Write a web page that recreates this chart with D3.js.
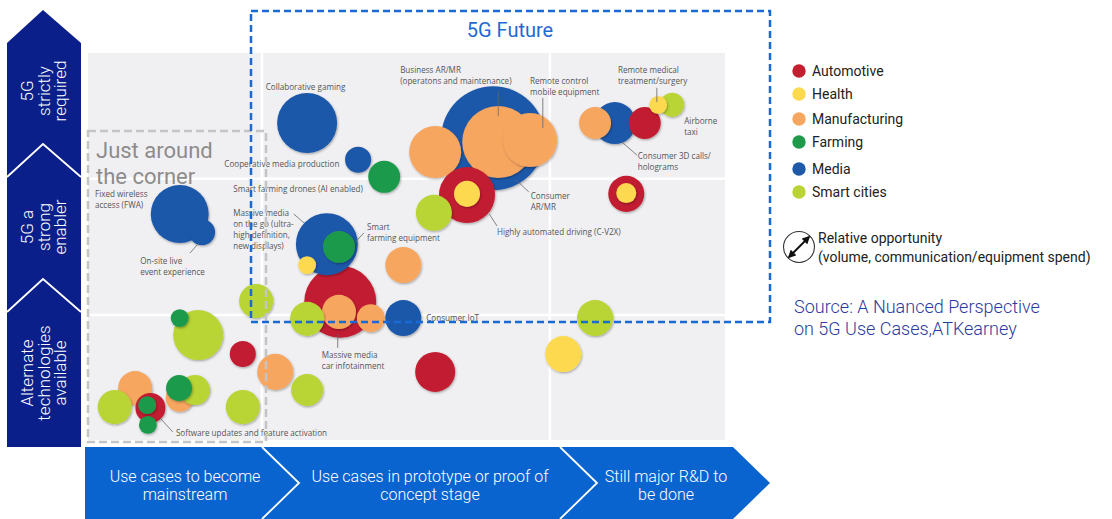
<!DOCTYPE html>
<html>
<head>
<meta charset="utf-8">
<script src="https://cdn.jsdelivr.net/npm/d3@7"></script>
<style>
  body { margin: 0; background: #fff; }
  svg { display: block; font-family: Roboto, "Open Sans", sans-serif; }
</style>
</head>
<body>
<svg id="chart" width="1112" height="519"></svg>
<script>
// categories / legend
const categories = ["Automotive", "Health", "Manufacturing", "Farming", "Media", "Smart cities"];
const categoryColors = ["#c21f30", "#fdd94f", "#f7a660", "#1f9a4b", "#1f59aa", "#b9d434"];

// axis bands (row = how much 5G is needed, column = maturity)
const rowStages = [["Alternate", "technologies", "available"], ["5G a", "strong", "enabler"], ["5G", "strictly", "required"]];
const colStages = [["Use cases to become", "mainstream"], ["Use cases in prototype or proof of", "concept stage"], ["Still major R&D to", "be done"]];
const colBreaks = [27.3, 72.5];
const rowBreaks = [32.3, 67.5];

// bubbles: [category, maturity (0-100), 5G need (0-100), relative opportunity]
const gamingCluster = [
  ["Media", 34.4, 81.9, 36],
  ["Media", 42.4, 72.4, 6.8],
  ["Farming", 46.5, 68.0, 10.2]
];
const arMrCluster = [
  ["Media", 63.6, 78.0, 108],
  ["Manufacturing", 54.5, 74.4, 27],
  ["Manufacturing", 64.4, 77.0, 51.8],
  ["Manufacturing", 69.4, 77.5, 29.2],
  ["Automotive", 59.5, 63.3, 31.4],
  ["Health", 59.5, 63.6, 6.8],
  ["Smart cities", 54.3, 58.7, 13]
];
const mediaCluster = [
  ["Automotive", 39.6, 35.7, 51.8],
  ["Media", 37.5, 50.6, 38.4],
  ["Farming", 39.4, 49.9, 10.2],
  ["Health", 34.4, 45.2, 3.2],
  ["Manufacturing", 39.4, 33.1, 11.6],
  ["Manufacturing", 44.4, 31.5, 7.8],
  ["Smart cities", 34.4, 31.3, 11.6],
  ["Media", 49.5, 31.5, 13],
  ["Manufacturing", 49.5, 45.2, 13],
  ["Smart cities", 26.4, 35.9, 11.6]
];
const medicalCluster = [
  ["Media", 82.7, 81.9, 17.6],
  ["Manufacturing", 79.6, 81.9, 10.2],
  ["Automotive", 87.4, 81.9, 10.2],
  ["Smart cities", 91.7, 86.6, 5.8],
  ["Health", 89.5, 86.6, 3.2],
  ["Automotive", 84.5, 63.6, 13],
  ["Health", 84.5, 63.8, 4]
];
const otherBubbles = [
  ["Smart cities", 79.6, 31.5, 13],
  ["Health", 74.6, 22.2, 13],
  ["Automotive", 54.5, 17.6, 16]
];
const fwaCluster = [
  ["Media", 14.4, 58.4, 33.6],
  ["Media", 17.9, 53.7, 6.8]
];
const mainstreamCluster = [
  ["Smart cities", 17.3, 27.1, 25],
  ["Farming", 14.4, 31.5, 3.2],
  ["Automotive", 24.3, 22.2, 6.8],
  ["Manufacturing", 29.4, 17.6, 13],
  ["Smart cities", 34.4, 12.9, 10.2],
  ["Smart cities", 24.3, 8.5, 11.6],
  ["Manufacturing", 7.4, 13.4, 11.6],
  ["Smart cities", 4.2, 8.5, 11.6],
  ["Automotive", 9.8, 8.3, 9],
  ["Farming", 9.3, 9.0, 3.2],
  ["Farming", 9.4, 3.9, 3.2],
  ["Manufacturing", 14.4, 10.9, 7.8],
  ["Smart cities", 16.8, 12.9, 9],
  ["Farming", 14.3, 13.4, 6.8]
];

// callout labels: [x, y, lines]
const labels = [
  [27.9, 90.4, ["Collaborative gaming"]],
  [49.0, 94.8, ["Business AR/MR", "(operatons and maintenance)"]],
  [69.4, 92.0, ["Remote control", "mobile equipment"]],
  [21.4, 70.5, ["Cooperative media production"]],
  [22.8, 64.1, ["Smart farming drones (AI enabled)"]],
  [22.8, 57.9, ["Massive media", "on the go (ultra-", "high definition,", "new displays)"]],
  [43.8, 54.3, ["Smart", "farming equipment"]],
  [69.5, 62.3, ["Consumer", "AR/MR"]],
  [64.2, 53.0, ["Highly automated driving (C-V2X)"]],
  [83.2, 94.8, ["Remote medical", "treatment/surgery"]],
  [93.6, 81.7, ["Airborne", "taxi"]],
  [86.3, 72.6, ["Consumer 3D calls/", "holograms"]],
  [1.1, 62.8, ["Fixed wireless", "access (FWA)"]],
  [8.2, 45.5, ["On-site live", "event experience"]],
  [53.1, 30.7, ["Consumer IoT"]],
  [36.7, 21.2, ["Massive media", "car infotainment"]],
  [13.8, 1.0, ["Software updates and feature activation"]]
];
// leader lines: [x1, y1, x2, y2]
const leaders = [
  [64.4, 90.2, 64.4, 83.7],
  [71.4, 88.4, 71.4, 80.6],
  [67.2, 67.2, 69.2, 64.1],
  [63.0, 58.4, 64.2, 55.3],
  [42.1, 51.4, 43.3, 53.5],
  [32.3, 58.4, 33.9, 56.1],
  [89.3, 91.0, 89.3, 87.3],
  [83.8, 77.0, 86.2, 73.6],
  [16.0, 48.3, 17.4, 50.9],
  [39.2, 27.4, 39.2, 23.8],
  [11.3, 5.7, 13.3, 2.1]
];

const svg = d3.select("#chart");
const x = d3.scaleLinear().domain([0, 100]).range([88, 725]);
const y = d3.scaleLinear().domain([0, 100]).range([440, 53]);
const r = d3.scaleSqrt().domain([0, 100]).range([0, 50]);
const color = d3.scaleOrdinal().domain(categories).range(categoryColors);

const defs = svg.append("defs");
defs.append("filter").attr("id", "shadow")
  .attr("x", "-30%").attr("y", "-30%").attr("width", "160%").attr("height", "160%")
  .append("feDropShadow")
  .attr("dx", 0.8).attr("dy", 1.2).attr("stdDeviation", 1.3)
  .attr("flood-color", "#000").attr("flood-opacity", 0.32);
defs.append("marker").attr("id", "head")
  .attr("viewBox", "0 0 10 10").attr("refX", 8).attr("refY", 5)
  .attr("markerWidth", 4).attr("markerHeight", 4).attr("orient", "auto-start-reverse")
  .append("path").attr("d", "M0,0L10,5L0,10z").attr("fill", "#111");

// panel
svg.append("rect").attr("x", x(0)).attr("y", y(100))
  .attr("width", x(100) - x(0)).attr("height", y(0) - y(100)).attr("fill", "#f0f0f3");
svg.selectAll(".vgap").data(colBreaks).join("line")
  .attr("x1", d => x(d)).attr("x2", d => x(d)).attr("y1", y(100)).attr("y2", y(0))
  .attr("stroke", "#fff").attr("stroke-width", 2.5);
svg.selectAll(".hgap").data(rowBreaks).join("line")
  .attr("x1", x(0)).attr("x2", x(100)).attr("y1", d => y(d)).attr("y2", d => y(d))
  .attr("stroke", "#fff").attr("stroke-width", 2.5);

// bubbles
const bubbles = [].concat(gamingCluster, arMrCluster, mediaCluster, medicalCluster, otherBubbles, fwaCluster, mainstreamCluster);
svg.append("g").selectAll("circle").data(bubbles).join("circle")
  .attr("cx", d => x(d[1])).attr("cy", d => y(d[2])).attr("r", d => r(d[3]))
  .attr("fill", d => color(d[0])).attr("filter", "url(#shadow)");

// leaders + labels
svg.append("g").selectAll("line").data(leaders).join("line")
  .attr("x1", d => x(d[0])).attr("y1", d => y(d[1]))
  .attr("x2", d => x(d[2])).attr("y2", d => y(d[3]))
  .attr("stroke", "#666").attr("stroke-width", 0.8);
const lab = svg.append("g").attr("font-family", "'Open Sans', sans-serif")
  .attr("font-size", 8.1).attr("fill", "#555");
labels.forEach(([lx, ly, lines]) => {
  const t = lab.append("text").attr("x", x(lx)).attr("y", y(ly));
  lines.forEach((s, i) => t.append("tspan").attr("x", x(lx)).attr("dy", i ? 11 : 0).text(s));
});

// "just around the corner" box
svg.append("rect").attr("x", 88).attr("y", 131).attr("width", 178).attr("height", 311)
  .attr("fill", "none").attr("stroke", "#c4c4c4").attr("stroke-width", 2.5)
  .attr("stroke-dasharray", "8 4");
svg.append("text").attr("x", 96).attr("y", 158).attr("font-size", 22).attr("fill", "#8c8c8c")
  .selectAll("tspan").data(["Just around", "the corner"]).join("tspan")
  .attr("x", 96).attr("dy", (d, i) => i ? 26 : 0).text(d => d);

// 5G future box
svg.append("rect").attr("x", 251).attr("y", 11).attr("width", 519).attr("height", 311)
  .attr("fill", "none").attr("stroke", "#1a6ad6").attr("stroke-width", 2.5)
  .attr("stroke-dasharray", "7 4");
svg.append("text").attr("x", 510).attr("y", 37).attr("text-anchor", "middle")
  .attr("font-size", 20).attr("fill", "#1f6ad2").text("5G Future");

// left vertical arrow
svg.append("path").attr("d", "M7,447V43L43,10L81,43V447Z").attr("fill", "#0b1f8a");
[144, 279].forEach(a => svg.append("path")
  .attr("d", `M7,${a + 33}L43,${a}L81,${a + 33}`)
  .attr("fill", "none").attr("stroke", "#fff").attr("stroke-width", 1.8));
const rowCenters = [373, 227, 91];
rowStages.forEach((lines, i) => {
  const g = svg.append("g").attr("transform", `translate(45,${rowCenters[i]}) rotate(-90)`);
  g.selectAll("text").data(lines).join("text")
    .attr("y", (d, j) => -12 + j * 16.5).attr("text-anchor", "middle")
    .attr("font-size", 17).attr("font-weight", 300).attr("fill", "#fff").text(d => d);
});

// bottom horizontal arrow
svg.append("path").attr("d", "M85,447H733L770,483L733,519H85Z").attr("fill", "#0a64cf");
[262, 560].forEach(a => svg.append("path")
  .attr("d", `M${a},447L${a + 37},483L${a},519`)
  .attr("fill", "none").attr("stroke", "#fff").attr("stroke-width", 1.8));
const colCenters = [185, 430, 666];
colStages.forEach((lines, i) => {
  svg.append("text").attr("text-anchor", "middle").attr("font-size", 16)
    .attr("font-weight", 300).attr("fill", "#fff")
    .selectAll("tspan").data(lines).join("tspan")
    .attr("x", colCenters[i]).attr("y", (d, j) => 482 + j * 18).text(d => d);
});

// legend
const legendY = [71, 94, 119, 142, 169, 192];
const legend = svg.append("g");
legend.selectAll("circle").data(categories).join("circle")
  .attr("cx", 799).attr("cy", (d, i) => legendY[i]).attr("r", 6.7).attr("fill", d => color(d));
legend.selectAll("text").data(categories).join("text")
  .attr("x", 812).attr("y", (d, i) => legendY[i] + 5).attr("font-size", 14)
  .attr("fill", "#222").text(d => d);

// size key
svg.append("circle").attr("cx", 799).attr("cy", 247).attr("r", 15.5)
  .attr("fill", "#fff").attr("stroke", "#333").attr("stroke-width", 1.1);
svg.append("line").attr("x1", 789).attr("y1", 257).attr("x2", 809).attr("y2", 237)
  .attr("stroke", "#111").attr("stroke-width", 2)
  .attr("marker-start", "url(#head)").attr("marker-end", "url(#head)");
svg.append("text").attr("font-size", 14).attr("fill", "#222")
  .selectAll("tspan").data(["Relative opportunity", "(volume, communication/equipment spend)"]).join("tspan")
  .attr("x", 818).attr("y", (d, i) => 243 + i * 19).text(d => d);

// source
svg.append("text").attr("font-size", 18).attr("font-weight", 300).attr("fill", "#2b3a9e")
  .selectAll("tspan").data(["Source: A Nuanced Perspective", "on 5G Use Cases,ATKearney"]).join("tspan")
  .attr("x", 794).attr("y", (d, i) => 313 + i * 22).text(d => d);
</script>
</body>
</html>
